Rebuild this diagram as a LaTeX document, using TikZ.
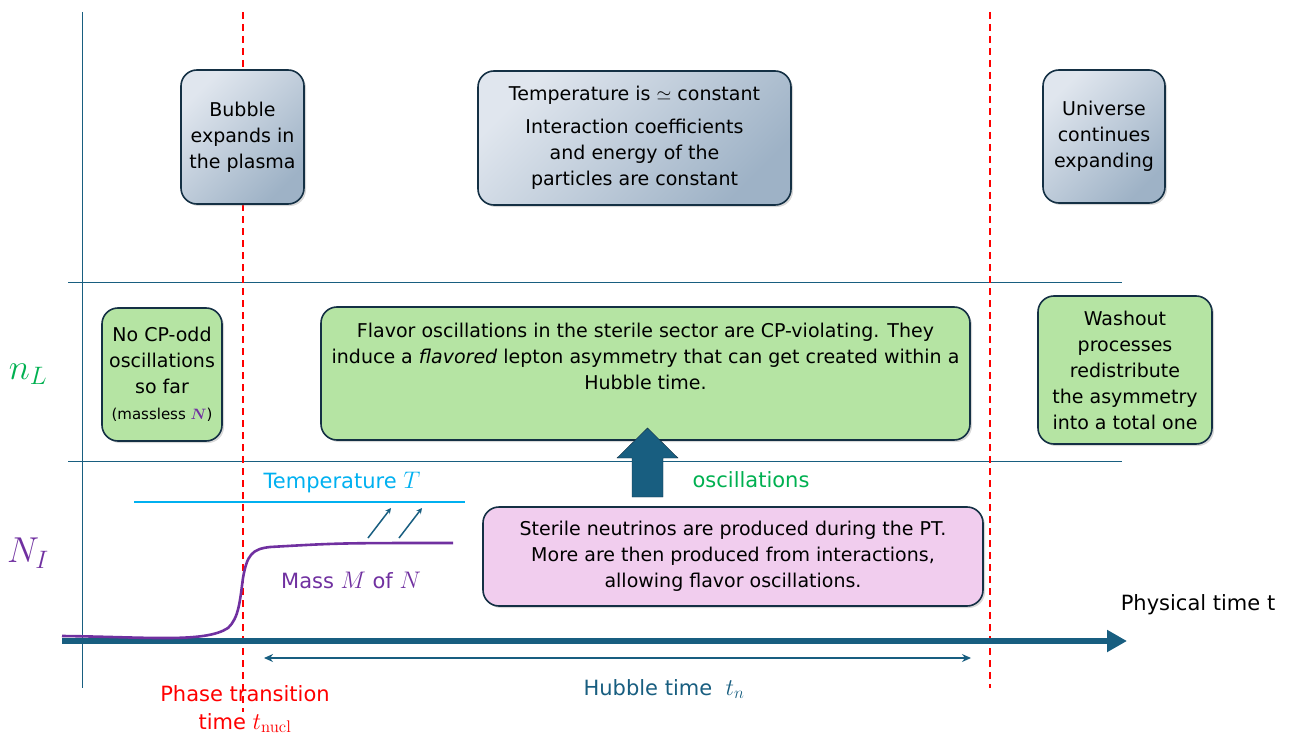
\RequirePackage{fix-cm}
\documentclass[tikz,border=0pt]{standalone}
\usepackage{amsmath}
\usepackage[no-math]{fontspec}
\setmainfont{DejaVu Sans}
\usetikzlibrary{positioning,calc,shadows,arrows.meta}

\definecolor{axisblue}{RGB}{24,94,128}
\definecolor{edgeblue}{RGB}{20,48,68}
\definecolor{boxlight}{RGB}{224,230,238}
\definecolor{boxdark}{RGB}{158,178,198}
\definecolor{boxgreen}{RGB}{181,228,163}
\definecolor{boxpink}{RGB}{241,205,238}
\definecolor{nlgreen}{RGB}{0,176,80}
\definecolor{mpurple}{RGB}{112,48,160}
\definecolor{tcyan}{RGB}{0,176,240}

% math a bit larger than the sans text around it
\newcommand{\mth}[1]{{\fontsize{24}{26}\selectfont$#1$}}

\begin{document}
\begin{tikzpicture}[x=1pt, y=-1pt,
        txt/.style={font=\fontsize{19}{26}\selectfont, align=center, inner sep=0pt},
        lbl/.style={font=\fontsize{21}{28}\selectfont, align=center, inner sep=0pt},
        card/.style={txt, draw=edgeblue, line width=1.6pt, rounded corners=16pt,
            drop shadow={shadow xshift=2pt, shadow yshift=-2pt, opacity=0.3}},
        bluecard/.style={card, top color=boxlight, bottom color=boxdark, shading angle=45},
        greencard/.style={card, fill=boxgreen},
        pinkcard/.style={card, fill=boxpink},
        sep/.style={axisblue, line width=1pt},
        epoch/.style={red, line width=1.3pt, dash pattern=on 7pt off 5pt},
        >=stealth
    ]
        \useasboundingbox (0,0) rectangle (1292,738);

        % frame of the plot
        \draw [sep] (82,12) -- (82,688);
        \draw [sep] (68,282) -- (1122,282);
        \draw [sep] (68,461) -- (1122,461);
        \draw [epoch] (243,12) -- (243,712);
        \draw [epoch] (990,12) -- (990,688);

        % time axis
        \coordinate (tstart) at (62,641);
        \coordinate (tend) at (1127,641);
        \draw [axisblue, line width=6pt, -{Triangle[length=20pt,width=21pt]}] (tstart) -- (tend);
        \node [lbl] (phys) at (1198,605) {Physical time t};

        % hubble time
        \coordinate (hstart) at (264,658);
        \coordinate (hend) at (971,658);
        \draw [axisblue, line width=1.3pt, {Stealth[length=9pt,width=8pt]}-{Stealth[length=9pt,width=8pt]}] (hstart) -- (hend);
        \node [lbl, text=axisblue] (hubble) at (664,689) {Hubble time~ \mth{t_n}};
        \node [lbl, text=red] (nucl) at (245,709) {Phase transition\\ time \mth{t_{\mathrm{nucl}}}};

        % row labels
        \node [font=\fontsize{36}{36}\selectfont, text=nlgreen] (nL) at (28,374) {$n_L$};
        \node [font=\fontsize{36}{36}\selectfont, text=mpurple] (NI) at (28,553) {$N_I$};

        % top row
        \node [bluecard, minimum width=123pt, minimum height=134pt] (bubble) at (242.5,137) {Bubble\\ expands in\\ the plasma};
        \node [bluecard, minimum width=313pt, minimum height=134pt] (temp) at (634.5,138) {Temperature is $\simeq$ constant\\[7pt] Interaction coefficients\\ and energy of the\\ particles are constant};
        \node [bluecard, minimum width=122pt, minimum height=133pt] (univ) at (1104,136.5) {Universe\\ continues\\ expanding};

        % middle row
        \node [greencard, minimum width=120pt, minimum height=133pt] (nocp) at (162,374.5) {No CP-odd\\ oscillations\\ so far\\ {\fontsize{15}{18}\selectfont (massless \textcolor{mpurple}{$\boldsymbol{N}$})}};
        \node [greencard, minimum width=649pt, minimum height=133pt] (flavor) at (645.5,373.5) {Flavor oscillations in the sterile sector are CP-violating. They\\ induce a \textit{flavored} lepton asymmetry that can get created within a\\ Hubble time.\\ \strut};
        \node [greencard, minimum width=174pt, minimum height=148pt] (washout) at (1125,370) {Washout\\ processes\\ redistribute\\ the asymmetry\\ into a total one};

        % bottom row
        \node [pinkcard, minimum width=500pt, minimum height=99pt] (prod) at (733,556.5) {Sterile neutrinos are produced during the PT.\\ More are then produced from interactions,\\ allowing flavor oscillations.};

        \coordinate (tleft) at (134,502);
        \coordinate (tright) at (465,502);
        \draw [tcyan, line width=1.3pt] (tleft) -- (tright);
        \node [lbl, text=tcyan] (templabel) at (342,482) {Temperature \mth{T}};

        \draw [mpurple, line width=2.6pt] (62,636) .. controls (150,637) and (205,643) .. (228,628)
            .. controls (239,618) and (240,600) .. (243,578)
            .. controls (247,555) and (252,549) .. (270,547)
            .. controls (340,543) .. (453,543);
        \node [lbl, text=mpurple] (mass) at (351,580) {Mass \mth{M} of \mth{N}};
        \foreach \x in {368,399}
            \draw [->, axisblue, line width=1.5pt] (\x,538) -- ++(23,-30);

        % oscillation arrow
        \fill [axisblue, draw=edgeblue] (632,497) -- (632,458) -- (617,458) -- (647.5,428)
            -- (678,458) -- (663,458) -- (663,497) -- cycle;
        \node [lbl, text=nlgreen] (osc) at (751,480) {oscillations};
    \end{tikzpicture}
\end{document}
